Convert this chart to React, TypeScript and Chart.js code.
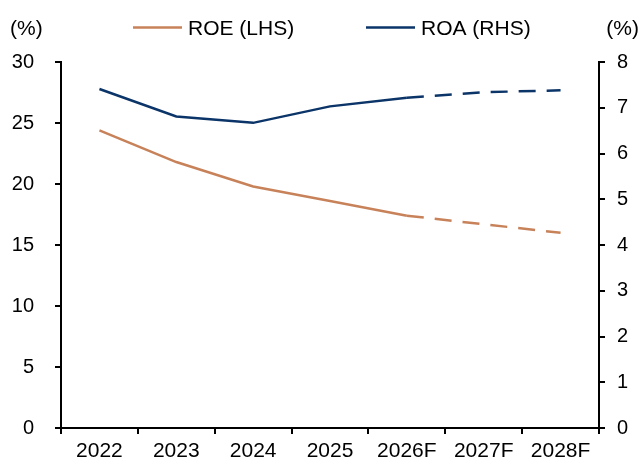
import React, { useEffect, useRef } from "react";
import { Chart, registerables } from "chart.js";

Chart.register(...registerables);

const categories = ["2022", "2023", "2024", "2025", "2026F", "2027F", "2028F"];
const roeValues = [24.4, 21.8, 19.8, 18.6, 17.4, 16.7, 16.0];
const roaValues = [7.41, 6.81, 6.67, 7.03, 7.22, 7.34, 7.38];
const firstForecastIndex = 4;
const roeLabel = "ROE (LHS)";
const roaLabel = "ROA (RHS)";
const unitLabel = "(%)";

const ROE_COLOR = "#C8825A";
const ROA_COLOR = "#0B3468";
const FONT = '"Liberation Sans", Arial, sans-serif';

const headerPlugin = {
  id: "header",
  afterDraw(chart: any) {
    const ctx = chart.ctx;
    ctx.save();
    ctx.font = `21px ${FONT}`;
    ctx.fillStyle = "#000";
    ctx.textBaseline = "middle";
    ctx.textAlign = "left";
    ctx.fillText(unitLabel, 10, 29);
    ctx.textAlign = "right";
    ctx.fillText(unitLabel, 639, 29);
    const items = [
      { x: 133, ds: chart.data.datasets[0] },
      { x: 366, ds: chart.data.datasets[1] },
    ];
    ctx.textAlign = "left";
    for (const it of items) {
      ctx.strokeStyle = it.ds.borderColor;
      ctx.lineWidth = 2.5;
      ctx.beginPath();
      ctx.moveTo(it.x, 27.5);
      ctx.lineTo(it.x + 49, 27.5);
      ctx.stroke();
      ctx.fillText(it.ds.label, it.x + 55, 29);
    }
    ctx.restore();
  },
};

export default function App() {
  const ref = useRef<HTMLCanvasElement | null>(null);
  useEffect(() => {
    document.body.style.margin = "0";
    const dashed = (ctx: any) =>
      ctx.p0DataIndex >= firstForecastIndex ? [17, 11] : undefined;
    const chart = new Chart(ref.current as HTMLCanvasElement, {
      type: "line",
      data: {
        labels: categories,
        datasets: [
          {
            label: roeLabel,
            data: roeValues,
            borderColor: ROE_COLOR,
            backgroundColor: ROE_COLOR,
            borderWidth: 2.5,
            pointRadius: 0,
            tension: 0,
            yAxisID: "y",
            segment: { borderDash: dashed },
          },
          {
            label: roaLabel,
            data: roaValues,
            borderColor: ROA_COLOR,
            backgroundColor: ROA_COLOR,
            borderWidth: 2.5,
            pointRadius: 0,
            tension: 0,
            yAxisID: "y1",
            segment: { borderDash: dashed },
          },
        ],
      },
      options: {
        animation: false,
        responsive: false,
        devicePixelRatio: 1,
        layout: { padding: { top: 62, left: 0, right: 0, bottom: 0 } },
        plugins: {
          legend: { display: false },
          tooltip: { enabled: false },
        },
        scales: {
          x: {
            offset: true,
            grid: {
              offset: true,
              drawOnChartArea: false,
              drawTicks: true,
              tickLength: 6,
              color: "#000",
              lineWidth: 2,
            },
            border: { color: "#000", width: 2 },
            ticks: {
              color: "#000",
              font: { family: FONT, size: 21 },
              padding: 5,
              maxRotation: 0,
              autoSkip: false,
            },
            afterFit(scale: any) {
              scale.height = 31;
            },
          },
          y: {
            position: "left",
            min: 0,
            max: 30,
            grid: {
              drawOnChartArea: false,
              tickLength: 6,
              color: "#000",
              lineWidth: 2,
            },
            border: { color: "#000", width: 2 },
            ticks: {
              stepSize: 5,
              color: "#000",
              font: { family: FONT, size: 20 },
              padding: 21,
            },
            afterFit(scale: any) {
              scale.width = 61;
            },
          },
          y1: {
            position: "right",
            min: 0,
            max: 8,
            grid: {
              drawOnChartArea: false,
              tickLength: 6,
              color: "#000",
              lineWidth: 2,
            },
            border: { color: "#000", width: 2 },
            ticks: {
              stepSize: 1,
              color: "#000",
              font: { family: FONT, size: 20 },
              padding: 12,
            },
            afterFit(scale: any) {
              scale.width = 41;
            },
          },
        },
      },
      plugins: [headerPlugin],
    });
    return () => chart.destroy();
  }, []);
  return (
    <div style={{ width: 640, height: 461 }}>
      <canvas ref={ref} width={640} height={461} style={{ display: "block" }} />
    </div>
  );
}
